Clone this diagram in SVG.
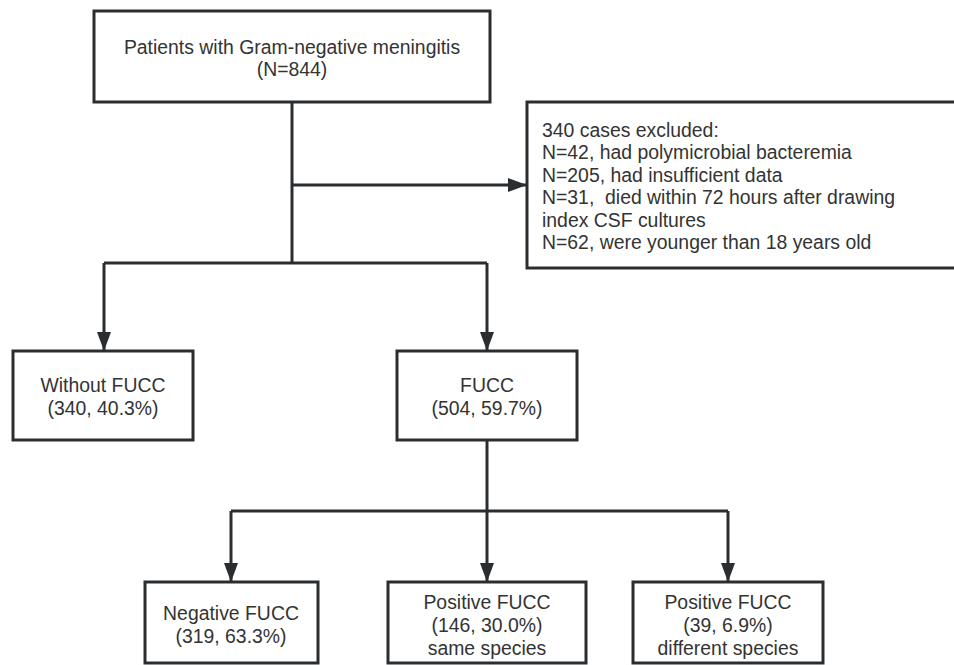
<svg xmlns="http://www.w3.org/2000/svg" width="954" height="665" viewBox="0 0 954 665">
<defs>
<marker id="arr" markerWidth="19" markerHeight="14" refX="19" refY="7" orient="auto" markerUnits="userSpaceOnUse" viewBox="0 0 19 14">
<path d="M0,0 L19,7 L0,14 Z" fill="#2b2e30"/>
</marker>
<style>
.box{fill:#fff;stroke:#2b2e30;stroke-width:3}
.ln{fill:none;stroke:#2b2e30;stroke-width:3}
text{font-family:"Liberation Sans",Arial,sans-serif;font-size:19.4px;fill:#333}
.c{text-anchor:middle}
</style>
</defs>
<rect width="954" height="665" fill="#fff"/>
<g id="connectors">
<polyline class="ln" points="292,102 292,263"/>
<line class="ln" x1="292" y1="185" x2="527" y2="185" marker-end="url(#arr)"/>
<polyline class="ln" points="104,263 487,263"/>
<line class="ln" x1="104" y1="263" x2="104" y2="351" marker-end="url(#arr)"/>
<line class="ln" x1="487" y1="263" x2="487" y2="351" marker-end="url(#arr)"/>
<polyline class="ln" points="487,440 487,511"/>
<polyline class="ln" points="231,511 728,511"/>
<line class="ln" x1="231" y1="511" x2="231" y2="582" marker-end="url(#arr)"/>
<line class="ln" x1="487" y1="511" x2="487" y2="582" marker-end="url(#arr)"/>
<line class="ln" x1="728" y1="511" x2="728" y2="582" marker-end="url(#arr)"/>
</g>
<g id="patients">
<rect class="box" x="94" y="11" width="396" height="91"/>
<text class="c" x="292" y="53.5">Patients with Gram-negative meningitis</text>
<text class="c" x="292" y="76">(N=844)</text>
</g>
<g id="excluded">
<rect class="box" x="527" y="102" width="440" height="166"/>
<text x="542" y="137">340 cases excluded:</text>
<text x="542" y="159.4">N=42, had polymicrobial bacteremia</text>
<text x="542" y="181.8">N=205, had insufficient data</text>
<text x="542" y="204.2" xml:space="preserve">N=31,  died within 72 hours after drawing</text>
<text x="542" y="226.6">index CSF cultures</text>
<text x="542" y="249">N=62, were younger than 18 years old</text>
</g>
<g id="without-fucc">
<rect class="box" x="13" y="351" width="180" height="89"/>
<text class="c" x="103" y="392">Without FUCC</text>
<text class="c" x="103" y="415">(340, 40.3%)</text>
</g>
<g id="fucc">
<rect class="box" x="397" y="351" width="180" height="89"/>
<text class="c" x="487" y="392">FUCC</text>
<text class="c" x="487" y="415">(504, 59.7%)</text>
</g>
<g id="negative-fucc">
<rect class="box" x="145" y="582" width="173" height="81"/>
<text class="c" x="231" y="620">Negative FUCC</text>
<text class="c" x="231" y="643">(319, 63.3%)</text>
</g>
<g id="positive-same">
<rect class="box" x="388" y="582" width="198" height="81"/>
<text class="c" x="487" y="609">Positive FUCC</text>
<text class="c" x="487" y="632">(146, 30.0%)</text>
<text class="c" x="487" y="655">same species</text>
</g>
<g id="positive-different">
<rect class="box" x="633" y="582" width="190" height="81"/>
<text class="c" x="728" y="609">Positive FUCC</text>
<text class="c" x="728" y="632">(39, 6.9%)</text>
<text class="c" x="728" y="655">different species</text>
</g>
</svg>
